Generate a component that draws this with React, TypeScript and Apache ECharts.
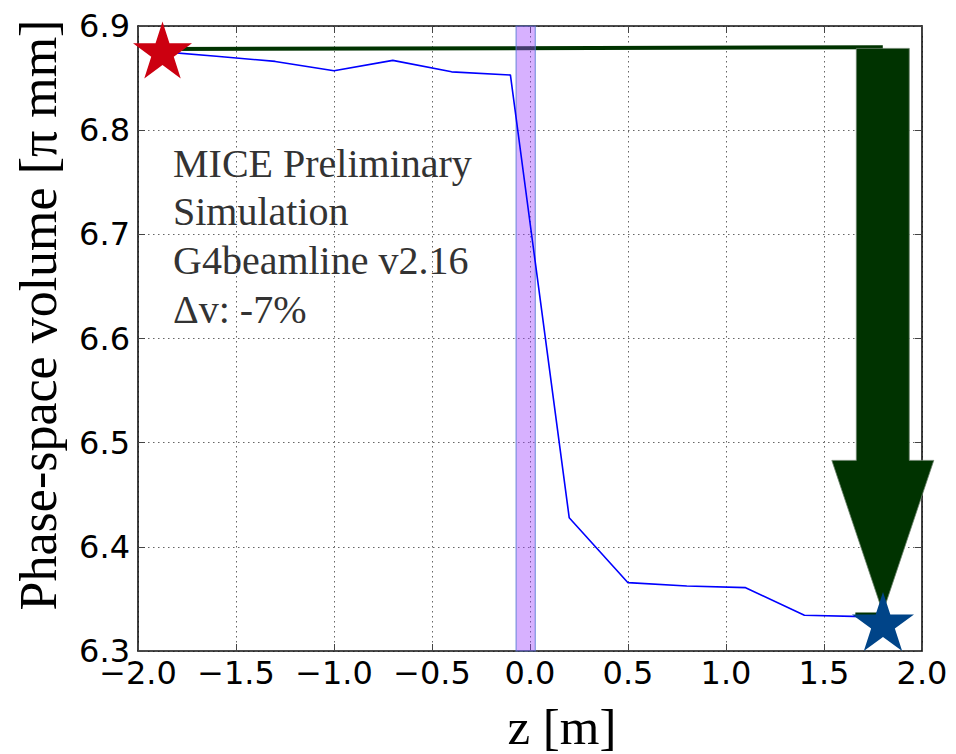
import React, { useEffect, useRef } from "react";
import * as echarts from "echarts";

// ---- data ----
const zValues = [-1.9, -1.6, -1.3, -1.0, -0.7, -0.4, -0.1, 0.2, 0.5, 0.8, 1.1, 1.4, 1.7];
const volumeValues = [6.8756, 6.871, 6.866, 6.857, 6.867, 6.856, 6.853, 6.428, 6.3656, 6.3624, 6.3608, 6.3343, 6.333];

const greenLineZ = [-1.875, 1.8];
const greenLineV = [6.878, 6.8795];
const smallBarZ = [1.66, 1.8];
const smallBarV = [6.3355, 6.3355];

const bandRange = [-0.071, 0.027];

const arrowX = 1.8;
const arrowTop = 6.8785;
const arrowHeadStart = 6.483;
const arrowTip = 6.337;
const arrowShaftHalf = 0.135;
const arrowHeadHalf = 0.26;

const startStar = [-1.875, 6.877];
const endStar = [1.801, 6.3283];

const xMin = -2.0, xMax = 2.0, xStep = 0.5;
const yMin = 6.3, yMax = 6.9, yStep = 0.1;

const annotationLines = ["MICE Preliminary", "Simulation", "G4beamline v2.16", "\u0394v: -7%"];
const xName = "z [m]";
const yName = "Phase-space volume [\u03c0 mm]";

const STAR =
  "path://M50 0 L61.23 34.55 L97.55 34.55 L68.17 55.9 L79.39 90.45 L50 69.1 L20.61 90.45 L31.83 55.9 L2.45 34.55 L38.77 34.55 Z";

const fmt = (v: number) => (v < 0 ? "\u2212" + Math.abs(v).toFixed(1) : v.toFixed(1));

export default function App() {
  const ref = useRef<HTMLDivElement>(null);
  useEffect(() => {
    if (!ref.current) return;
    const chart = echarts.init(ref.current, null, { renderer: "svg" });
    const tickFont = { fontFamily: "DejaVu Sans", fontSize: 32, color: "#000" };
    const splitLine = { show: true, lineStyle: { color: "#666", width: 1, type: [1.5, 3.5] as any } };
    const axisLine = { show: true, onZero: false, lineStyle: { color: "#111", width: 1.6 } };
    const axisTick = { show: true, inside: true, length: 7, lineStyle: { color: "#444", width: 1 } };
    const serif = "Liberation Serif";

    const option: any = {
      animation: false,
      backgroundColor: "#fff",
      grid: { left: 138, top: 26, right: 34, bottom: 103, containLabel: false },
      xAxis: [
        {
          type: "value", min: xMin, max: xMax, interval: xStep, position: "bottom",
          axisLine, axisTick, splitLine,
          axisLabel: { ...tickFont, margin: 6, formatter: fmt, showMinLabel: true, showMaxLabel: true },
        },
        {
          type: "value", min: xMin, max: xMax, interval: xStep, position: "top",
          axisLine, axisTick, splitLine: { show: false }, axisLabel: { show: false },
        },
      ],
      yAxis: [
        {
          type: "value", min: yMin, max: yMax, interval: yStep, position: "left",
          axisLine, axisTick, splitLine,
          axisLabel: { ...tickFont, margin: 8, formatter: (v: number) => v.toFixed(1) },
        },
        {
          type: "value", min: yMin, max: yMax, interval: yStep, position: "right",
          axisLine, axisTick, splitLine: { show: false }, axisLabel: { show: false },
        },
      ],
      series: [
        {
          type: "line",
          data: greenLineZ.map((z, i) => [z, greenLineV[i]]),
          symbol: "none",
          lineStyle: { color: "#003300", width: 4 },
          z: 2,
        },
        {
          type: "custom",
          data: [[bandRange[0], yMax]],
          renderItem: (params: any, api: any) => {
            const p0 = api.coord([bandRange[0], yMax]);
            const p1 = api.coord([bandRange[1], yMin]);
            return {
              type: "rect",
              shape: { x: p0[0], y: p0[1], width: p1[0] - p0[0], height: p1[1] - p0[1] },
              style: { fill: "rgba(160,70,255,0.42)", stroke: "rgba(80,120,210,0.7)", lineWidth: 1.2 },
            };
          },
          z: 3,
        },
        {
          type: "line",
          data: zValues.map((z, i) => [z, volumeValues[i]]),
          symbol: "none",
          lineStyle: { color: "#0000ff", width: 1.6 },
          z: 4,
        },
        {
          type: "line",
          data: smallBarZ.map((z, i) => [z, smallBarV[i]]),
          symbol: "none",
          lineStyle: { color: "#003300", width: 3 },
          z: 4,
        },
        {
          type: "custom",
          clip: false,
          data: [[arrowX, arrowTop]],
          renderItem: (params: any, api: any) => {
            const pts = [
              [arrowX - arrowShaftHalf, arrowTop],
              [arrowX + arrowShaftHalf, arrowTop],
              [arrowX + arrowShaftHalf, arrowHeadStart],
              [arrowX + arrowHeadHalf, arrowHeadStart],
              [arrowX, arrowTip],
              [arrowX - arrowHeadHalf, arrowHeadStart],
              [arrowX - arrowShaftHalf, arrowHeadStart],
            ].map((p) => api.coord(p));
            return {
              type: "polygon",
              shape: { points: pts },
              style: { fill: "#003300", stroke: "#6a806a", lineWidth: 0.8 },
            };
          },
          z: 5,
        },
        {
          type: "scatter",
          clip: false,
          data: [startStar],
          symbol: STAR,
          symbolSize: [59, 57],
          itemStyle: { color: "#cc0010", opacity: 1 },
          z: 6,
        },
        {
          type: "scatter",
          clip: false,
          data: [endStar],
          symbol: STAR,
          symbolSize: [62, 59],
          itemStyle: { color: "#004488", opacity: 1 },
          z: 6,
        },
      ],
      graphic: [
        ...annotationLines.map((t, i) => ({
          type: "text",
          left: 173,
          top: 143 + i * 48.7,
          z: 10,
          style: { text: t, fontFamily: serif, fontSize: 40, fill: "#333" },
        })),
        {
          type: "text",
          x: 562,
          y: 727,
          style: { text: xName, fontFamily: serif, fontSize: 51, fill: "#000", align: "center", verticalAlign: "middle" },
        },
        {
          type: "text",
          x: 38,
          y: 315,
          rotation: Math.PI / 2,
          style: { text: yName, fontFamily: serif, fontSize: 52, fill: "#000", align: "center", verticalAlign: "middle" },
        },
      ],
    };
    chart.setOption(option);
    return () => chart.dispose();
  }, []);
  return <div ref={ref} style={{ position: "fixed", left: 0, top: 0, width: 956, height: 754 }} />;
}
